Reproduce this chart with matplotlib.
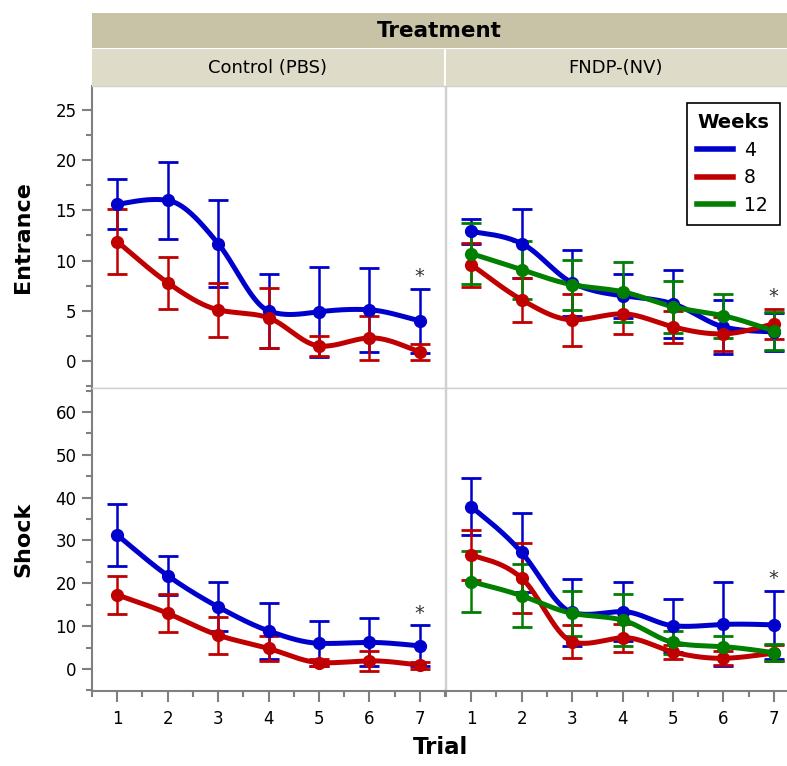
import numpy as np
import matplotlib
matplotlib.use("Agg")
import matplotlib.pyplot as plt
from matplotlib.patches import Rectangle
from matplotlib.lines import Line2D

plt.rcParams['font.family'] = ['DejaVu Sans']

trials = [1, 2, 3, 4, 5, 6, 7]
weeks = ['4', '8', '12']
colors = {'4': '#0000CC', '8': '#C00000', '12': '#007F00'}

# Entrance, Control (PBS)
entr_ctrl_4 = [15.6, 16.0, 11.7, 5.0, 4.9, 5.1, 4.0]
entr_ctrl_4_err = [2.5, 3.8, 4.3, 3.7, 4.5, 4.2, 3.2]
entr_ctrl_8 = [11.9, 7.8, 5.1, 4.3, 1.5, 2.3, 0.9]
entr_ctrl_8_err = [3.2, 2.6, 2.7, 3.0, 1.0, 2.2, 0.8]

# Entrance, FNDP-(NV)
entr_fndp_4 = [12.9, 11.7, 7.8, 6.5, 5.7, 3.4, 2.9]
entr_fndp_4_err = [1.2, 3.4, 3.3, 2.2, 3.4, 2.7, 1.9]
entr_fndp_8 = [9.6, 6.1, 4.1, 4.7, 3.4, 2.7, 3.7]
entr_fndp_8_err = [2.2, 2.2, 2.6, 2.0, 1.6, 1.7, 1.5]
entr_fndp_12 = [10.7, 9.1, 7.6, 6.9, 5.4, 4.5, 3.0]
entr_fndp_12_err = [3.0, 2.9, 2.5, 3.0, 2.6, 2.2, 1.9]

# Shock, Control (PBS)
shock_ctrl_4 = [31.3, 21.8, 14.5, 8.9, 6.0, 6.2, 5.4]
shock_ctrl_4_err = [7.2, 4.5, 5.7, 6.5, 5.2, 5.6, 4.8]
shock_ctrl_8 = [17.3, 13.0, 7.9, 4.8, 1.5, 1.9, 0.9]
shock_ctrl_8_err = [4.5, 4.4, 4.3, 2.9, 0.8, 2.3, 0.8]

# Shock, FNDP-(NV)
shock_fndp_4 = [37.9, 27.2, 13.2, 13.4, 10.1, 10.4, 10.3]
shock_fndp_4_err = [6.6, 9.3, 7.8, 6.9, 6.2, 9.8, 7.9]
shock_fndp_8 = [26.6, 21.2, 6.4, 7.3, 4.0, 2.5, 3.7]
shock_fndp_8_err = [5.9, 8.1, 3.9, 3.3, 1.7, 1.6, 1.8]
shock_fndp_12 = [20.4, 17.1, 13.0, 11.4, 6.2, 5.2, 3.8]
shock_fndp_12_err = [7.1, 7.4, 5.3, 6.0, 2.7, 2.6, 2.0]

panels = [
    [{'4': (entr_ctrl_4, entr_ctrl_4_err), '8': (entr_ctrl_8, entr_ctrl_8_err)},
     {'4': (entr_fndp_4, entr_fndp_4_err), '8': (entr_fndp_8, entr_fndp_8_err),
      '12': (entr_fndp_12, entr_fndp_12_err)}],
    [{'4': (shock_ctrl_4, shock_ctrl_4_err), '8': (shock_ctrl_8, shock_ctrl_8_err)},
     {'4': (shock_fndp_4, shock_fndp_4_err), '8': (shock_fndp_8, shock_fndp_8_err),
      '12': (shock_fndp_12, shock_fndp_12_err)}],
]
row_labels = ['Entrance', 'Shock']
col_labels = ['Control (PBS)', 'FNDP-(NV)']


def hermite(x, y, m, t):
    idx = np.clip(np.searchsorted(x, t) - 1, 0, len(x) - 2)
    hh = x[idx + 1] - x[idx]
    s = (t - x[idx]) / hh
    h00 = 2 * s ** 3 - 3 * s ** 2 + 1
    h10 = s ** 3 - 2 * s ** 2 + s
    h01 = -2 * s ** 3 + 3 * s ** 2
    h11 = s ** 3 - s ** 2
    return h00 * y[idx] + h10 * hh * m[idx] + h01 * y[idx + 1] + h11 * hh * m[idx + 1]


def smooth(x, y, n=300):
    # smooth line through the points: blend of a natural spline and a monotone cubic
    x = np.asarray(x, float)
    y = np.asarray(y, float)
    k = len(x)
    h = np.diff(x)
    d = np.diff(y) / h
    # monotone slopes
    m1 = np.zeros(k)
    for i in range(1, k - 1):
        if d[i - 1] * d[i] > 0:
            w1 = 2 * h[i] + h[i - 1]
            w2 = h[i] + 2 * h[i - 1]
            m1[i] = (w1 + w2) / (w1 / d[i - 1] + w2 / d[i])
    m1[0], m1[-1] = d[0], d[-1]
    # natural spline slopes
    A = np.zeros((k, k))
    r = np.zeros(k)
    A[0, 0], A[0, 1], r[0] = 2, 1, 3 * d[0]
    A[-1, -2], A[-1, -1], r[-1] = 1, 2, 3 * d[-1]
    for i in range(1, k - 1):
        A[i, i - 1] = h[i]
        A[i, i] = 2 * (h[i - 1] + h[i])
        A[i, i + 1] = h[i - 1]
        r[i] = 3 * (h[i] * d[i - 1] + h[i - 1] * d[i])
    m2 = np.linalg.solve(A, r)
    t = np.linspace(x[0], x[-1], n)
    return t, hermite(x, y, 0.5 * (m1 + m2), t)


W, H = 787, 766
fig = plt.figure(figsize=(W / 100, H / 100), dpi=100)


def rect(x0, y0, x1, y1):
    return [x0 / W, 1 - y1 / H, (x1 - x0) / W, (y1 - y0) / H]


# header strips
fig.patches.append(Rectangle((92 / W, 1 - 48 / H), (W - 92) / W, 35 / H,
                             transform=fig.transFigure, facecolor='#C8C3A6',
                             edgecolor='none', zorder=0))
for x0, x1 in [(92, 444), (446, W)]:
    fig.patches.append(Rectangle((x0 / W, 1 - 86 / H), (x1 - x0) / W, 37 / H,
                                 transform=fig.transFigure, facecolor='#DEDCC9',
                                 edgecolor='none', zorder=0))
fig.text((92 + W) / 2 / W, 1 - 31 / H, 'Treatment', ha='center', va='center',
         fontsize=15.5, fontweight='bold')
fig.text(268 / W, 1 - 68 / H, col_labels[0], ha='center', va='center', fontsize=13)
fig.text(616 / W, 1 - 68 / H, col_labels[1], ha='center', va='center', fontsize=13)

xs = [(92, 445), (446, 799)]
ys = [(86, 388), (388, 691)]
ylims = [(-2.69, 27.39), (-5.14, 65.6)]
yticks = [[0, 5, 10, 15, 20, 25], [0, 10, 20, 30, 40, 50, 60]]
yminor = [np.arange(-2.5, 27.5, 2.5), np.arange(-5, 66, 5)]

for r in range(2):
    for c in range(2):
        ax = fig.add_axes(rect(xs[c][0], ys[r][0], xs[c][1], ys[r][1]))
        ax.set_xlim(0.5, 7.5)
        ax.set_ylim(*ylims[r])
        for sp in ax.spines.values():
            sp.set_color('#D0D0D0')
            sp.set_linewidth(1)
        if c == 0:
            ax.spines['left'].set_color('#808080')
            ax.spines['left'].set_linewidth(1.5)
            ax.set_yticks(yticks[r])
            ax.set_yticks(yminor[r], minor=True)
            ax.tick_params(axis='y', which='major', length=7, width=1.5,
                           color='#808080', labelsize=12, pad=4)
            ax.tick_params(axis='y', which='minor', length=4, width=1.5,
                           color='#808080')
            ax.set_ylabel(row_labels[r], fontsize=16, fontweight='bold', labelpad=16)
        else:
            ax.set_yticks([])
        if r == 1:
            ax.spines['bottom'].set_color('#808080')
            ax.spines['bottom'].set_linewidth(1.5)
            ax.set_xticks(trials)
            ax.set_xticks(np.arange(0.5, 7.6, 0.5), minor=True)
            ax.tick_params(axis='x', which='major', length=8, width=1.5,
                           color='#808080', labelsize=12, pad=6)
            ax.tick_params(axis='x', which='minor', length=4, width=1.5,
                           color='#808080')
        else:
            ax.set_xticks([])

        series = panels[r][c]
        tops = []
        for wk, (vals, errs) in series.items():
            col = colors[wk]
            ax.errorbar(trials, vals, yerr=errs, fmt='none', ecolor=col,
                        elinewidth=1.8, capsize=7, capthick=2, zorder=2)
            tx, ty = smooth(trials, vals)
            ax.plot(tx, ty, color=col, lw=3.6, zorder=3, solid_capstyle='round')
            ax.plot(trials, vals, 'o', color=col, ms=8.5, zorder=4)
            tops.append(vals[-1] + errs[-1])
        ax.annotate('*', (7, max(tops)), xytext=(0, 2), textcoords='offset points',
                    ha='center', va='bottom', fontsize=14, color='#333333')

        if r == 0 and c == 1:
            handles = [Line2D([], [], color=colors[w], lw=4) for w in weeks]
            leg = ax.legend(handles, weeks, title='Weeks', loc='upper left',
                            bbox_to_anchor=(687 / W, 1 - 103 / H),
                            bbox_transform=fig.transFigure, fontsize=13.5,
                            title_fontproperties={'weight': 'bold', 'size': 14},
                            fancybox=False, edgecolor='black', framealpha=1,
                            handlelength=1.9, handletextpad=0.6, alignment='left',
                            borderpad=0.55, borderaxespad=0, labelspacing=0.45)
            leg.get_frame().set_linewidth(1.2)

fig.text(441 / W, 1 - 748 / H, 'Trial', ha='center', va='center',
         fontsize=16.5, fontweight='bold')

fig.savefig('out.png', dpi=100)
